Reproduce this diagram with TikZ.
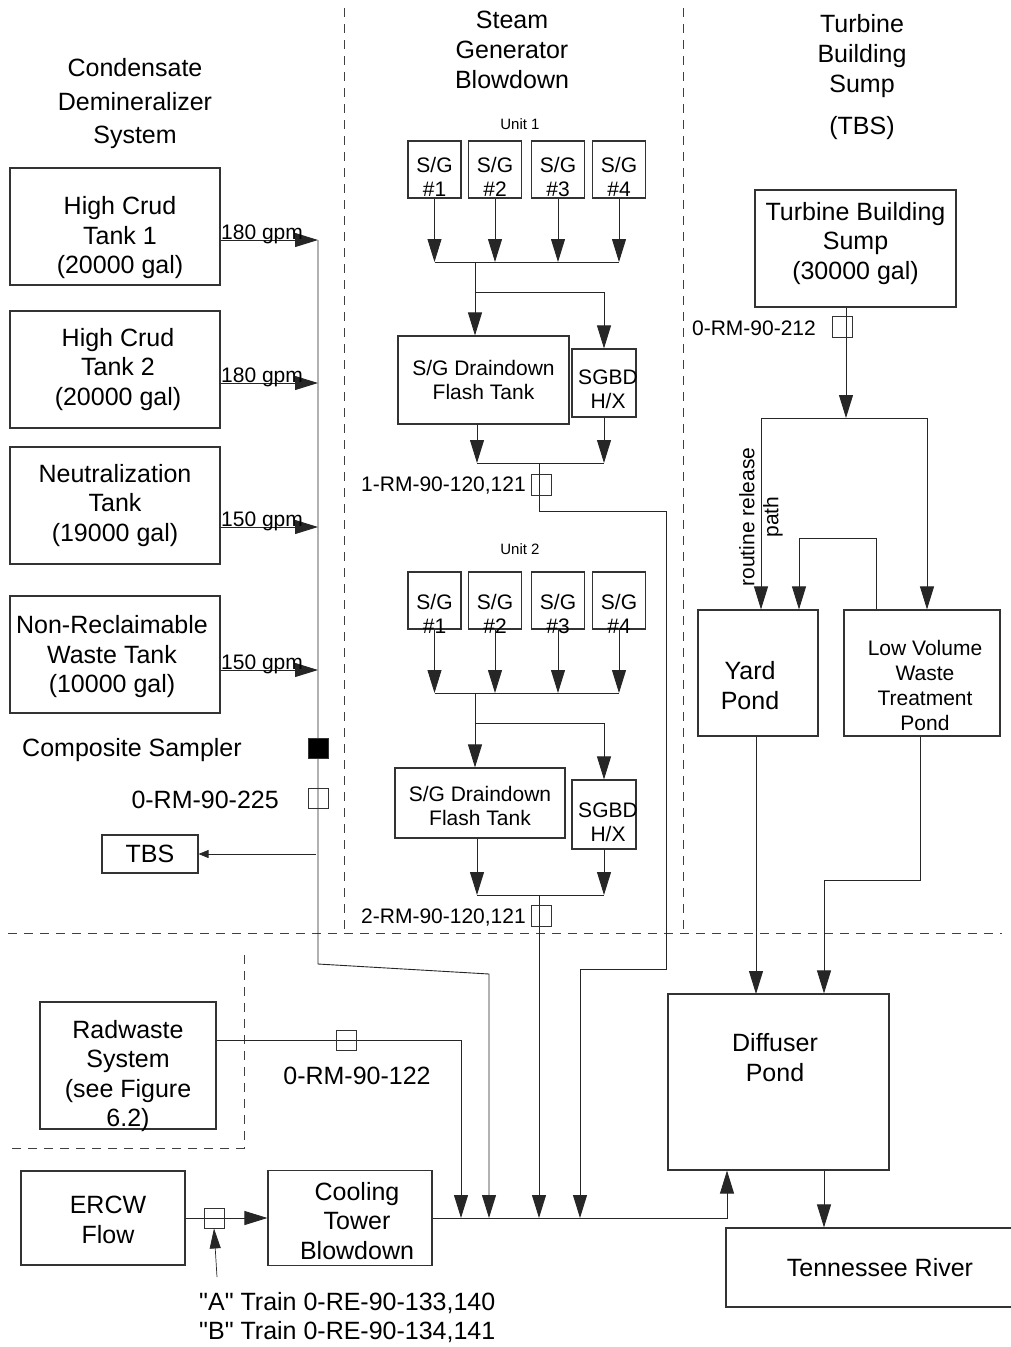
\documentclass[tikz,border=0pt]{standalone}
\usepackage{fontspec}
\setmainfont{Liberation Sans}
\usetikzlibrary{arrows.meta, positioning, calc}

\tikzset{
  box/.style={draw=black!80, line width=1.1pt, inner sep=0pt},
  lbl/.style={align=center, font=\fontsize{25}{29.5}\selectfont, inner sep=0pt},
  mlbl/.style={align=center, font=\fontsize{21}{24}\selectfont, inner sep=0pt},
  slbl/.style={font=\fontsize{15}{18}\selectfont, inner sep=0pt},
  pipe/.style={line width=0.9pt, black!85},
  zone/.style={line width=0.7pt, black!75, dash pattern=on 9pt off 7pt},
  mon/.style={draw=black!80, line width=0.9pt, minimum width=20pt, minimum height=20pt, inner sep=0pt},
  sg/.style={box, minimum width=53, minimum height=57},
  sgt/.style={mlbl, font=\fontsize{21}{23.5}\selectfont},
  >={Triangle[length=23pt,width=14pt]},
}

\begin{document}
\begin{tikzpicture}[x=1pt, y=-1pt]
  \useasboundingbox (0,0) rectangle (1010,1347);

  % zone borders
  \draw[zone] (344,8) -- (344,933);
  \draw[zone] (683,8) -- (683,933);
  \draw[zone] (8,933) -- (1002,933);
  \draw[zone] (244,955) -- (244,1148) -- (8,1148);

  % headings
  \node[lbl, font=\fontsize{25}{33.5}\selectfont] (tcd) at (135,104) {Condensate\\Demineralizer\\System};
  \node[lbl, font=\fontsize{25}{30}\selectfont] (tsg) at (512,50) {Steam\\Generator\\Blowdown};
  \node[lbl, font=\fontsize{25}{30}\selectfont] (ttb) at (862,56) {Turbine\\Building\\Sump};
  \node[lbl] (ttbs) at (862,128) {(TBS)};

  % condensate demineralizer tanks
  \node[box, minimum width=210, minimum height=117, label={[lbl, xshift=5pt, yshift=-11.5pt]center:{High Crud\\Tank 1\\(20000 gal)}}] (hct1) at (115,226.5) {};
  \node[box, minimum width=210, minimum height=117, label={[lbl, xshift=3pt]center:{High Crud\\Tank 2\\(20000 gal)}}] (hct2) at (115,369.5) {};
  \node[box, lbl, minimum width=210, minimum height=117] (neut) at (115,505.5) {Neutralization\\Tank\\(19000 gal)};
  \node[box, minimum width=210, minimum height=117, label={[lbl, xshift=-3pt, yshift=-2.5pt]center:{Non-Reclaimable\\Waste Tank\\(10000 gal)}}] (nrw) at (115,654.5) {};

  \coordinate (m1) at (318,240);
  \coordinate (m2) at (318,383);
  \coordinate (m3) at (318,527);
  \coordinate (m4) at (318,670);
  \draw[pipe, ->] (hct1.east |- m1) -- (m1);
  \draw[pipe, ->] (hct2.east |- m2) -- (m2);
  \draw[pipe, ->] (neut.east |- m3) -- (m3);
  \draw[pipe, ->] (nrw.east |- m4) -- (m4);
  \node[mlbl, anchor=base west] (g1) at (221,239) {180 gpm};
  \node[mlbl, anchor=base west] (g2) at (221,382) {180 gpm};
  \node[mlbl, anchor=base west] (g3) at (221,526) {150 gpm};
  \node[mlbl, anchor=base west] (g4) at (221,669) {150 gpm};

  \draw[pipe, ->] (m1) -- (318,964) -- (489,974) -- (489,1218);
  \node[mon, fill=black] (cs) at (318,748) {};
  \node[lbl] (csl) at (132,750) {Composite Sampler};
  \node[mon] (rm225) at (318,798) {};
  \node[lbl, anchor=east] (rm225l) at (279,800) {0-RM-90-225};
  \node[box, lbl, minimum width=96, minimum height=38] (tbs) at (150,854) {TBS};
  \draw[pipe, line width=0.7pt, -{Triangle[length=10pt,width=8pt]}] (316,854) -- (tbs.east);

  % steam generator blowdown, unit 1
  \node[slbl] (u1) at (520,124) {Unit 1};
  \node[sg, label={[sgt, yshift=-7.5pt]center:{S/G\\\#1}}] (sg11) at (434.5,169.5) {};
  \node[sg, label={[sgt, yshift=-7.5pt]center:{S/G\\\#2}}] (sg12) at (495,169.5) {};
  \node[sg, label={[sgt, yshift=-7.5pt]center:{S/G\\\#3}}] (sg13) at (558,169.5) {};
  \node[sg, label={[sgt, yshift=-7.5pt]center:{S/G\\\#4}}] (sg14) at (619,169.5) {};
  \coordinate (b1) at (475,262);
  \draw[pipe, ->] (sg11.south) -- (sg11.south |- b1);
  \draw[pipe, ->] (sg12.south) -- (sg12.south |- b1);
  \draw[pipe, ->] (sg13.south) -- (sg13.south |- b1);
  \draw[pipe, ->] (sg14.south) -- (sg14.south |- b1);
  \draw[pipe] (sg11.south |- b1) -- (sg14.south |- b1);

  \node[box, mlbl, minimum width=171, minimum height=88] (ft1) at (483.5,380) {S/G Draindown\\Flash Tank};
  \node[box, minimum width=64, minimum height=68, label={[mlbl, xshift=4pt, yshift=-6pt]center:{SGBD\\H/X}}] (hx1) at (604,383) {};
  \coordinate (j1) at (475,292);
  \draw[pipe, ->] (b1) -- (b1 |- ft1.north);
  \draw[pipe, ->] (j1) -- (j1 -| hx1.north) -- (hx1.north);
  \coordinate (f1) at (477,463);
  \coordinate (d1) at (539,463);
  \draw[pipe, ->] (ft1.south -| f1) -- (f1);
  \draw[pipe, ->] (hx1.south) -- (hx1.south |- f1);
  \draw[pipe] (f1) -- (hx1.south |- f1);
  \draw[pipe, ->] (d1) -- (539,511) -- (666,511) -- (666,969) -- (580,969) -- (580,1218);
  \node[mon, minimum height=21] (rm1) at (541,484.5) {};
  \node[mlbl, anchor=east] (rm1l) at (526,486) {1-RM-90-120,121};

  % steam generator blowdown, unit 2
  \node[slbl] (u2) at (520,549) {Unit 2};
  \node[sg, label={[sgt, yshift=-13.5pt]center:{S/G\\\#1}}] (sg21) at (434.5,600.5) {};
  \node[sg, label={[sgt, yshift=-13.5pt]center:{S/G\\\#2}}] (sg22) at (495,600.5) {};
  \node[sg, label={[sgt, yshift=-13.5pt]center:{S/G\\\#3}}] (sg23) at (558,600.5) {};
  \node[sg, label={[sgt, yshift=-13.5pt]center:{S/G\\\#4}}] (sg24) at (619,600.5) {};
  \coordinate (b2) at (475,693);
  \draw[pipe, ->] (sg21.south) -- (sg21.south |- b2);
  \draw[pipe, ->] (sg22.south) -- (sg22.south |- b2);
  \draw[pipe, ->] (sg23.south) -- (sg23.south |- b2);
  \draw[pipe, ->] (sg24.south) -- (sg24.south |- b2);
  \draw[pipe] (sg21.south |- b2) -- (sg24.south |- b2);

  \node[box, minimum width=170, minimum height=70, label={[mlbl, yshift=-3pt]center:{S/G Draindown\\Flash Tank}}] (ft2) at (480,803) {};
  \node[box, minimum width=64, minimum height=69, label={[mlbl, xshift=4pt, yshift=-7.5pt]center:{SGBD\\H/X}}] (hx2) at (604,814.5) {};
  \coordinate (j2) at (475,723);
  \draw[pipe, ->] (b2) -- (b2 |- ft2.north);
  \draw[pipe, ->] (j2) -- (j2 -| hx2.north) -- (hx2.north);
  \coordinate (f2) at (477,895);
  \coordinate (d2) at (539,895);
  \draw[pipe, ->] (ft2.south -| f2) -- (f2);
  \draw[pipe, ->] (hx2.south) -- (hx2.south |- f2);
  \draw[pipe] (f2) -- (hx2.south |- f2);
  \draw[pipe, ->] (d2) -- (539,1218);
  \node[mon, minimum height=21] (rm2) at (541,915.5) {};
  \node[mlbl, anchor=east] (rm2l) at (526,917) {2-RM-90-120,121};

  % turbine building sump
  \node[box, minimum width=201, minimum height=117, label={[lbl, yshift=5pt]center:{Turbine Building\\Sump\\(30000 gal)}}] (sump) at (855.5,248.5) {};
  \coordinate (t1) at (846,418);
  \draw[pipe, ->] (sump.south -| t1) -- (t1);
  \node[mon, minimum height=21] (rm212) at (842,326.5) {};
  \node[mlbl, anchor=east] (rm212l) at (816,328) {0-RM-90-212};
  \coordinate (t2) at (761,418);
  \coordinate (t3) at (927,418);
  \draw[pipe] (t2) -- (t3);

  \node[box, minimum width=120, minimum height=126, label={[lbl, xshift=-8pt, yshift=-12.5pt]center:{Yard\\Pond}}] (yard) at (758,673) {};
  \node[box, minimum width=156, minimum height=126, label={[mlbl, font=\fontsize{21}{25}\selectfont, xshift=3pt, yshift=-12.5pt]center:{Low Volume\\Waste\\Treatment\\Pond}}] (lvw) at (922,673) {};
  \draw[pipe, ->] (t2) -- (t2 |- yard.north);
  \draw[pipe, ->] (t3) -- (t3 |- lvw.north);
  \node[mlbl, rotate=90] (rrp) at (761,517) {routine release\\path};
  \coordinate (l1) at (876,538);
  \coordinate (l2) at (799,538);
  \draw[pipe, ->] (lvw.north -| l1) -- (l1) -- (l2) -- (l2 |- yard.north);

  % ponds and river
  \node[box, minimum width=221, minimum height=176, label={[lbl, xshift=-3.5pt, yshift=24.5pt]center:{Diffuser\\Pond}}] (dif) at (778.5,1082) {};
  \coordinate (p1) at (756,994);
  \coordinate (p2) at (920,880);
  \coordinate (p3) at (824,880);
  \draw[pipe, ->] (yard.south -| p1) -- (p1);
  \draw[pipe, ->] (lvw.south -| p2) -- (p2) -- (p3) -- (p3 |- dif.north);
  \node[box, lbl, minimum width=308, minimum height=79] (riv) at (880,1267.5) {Tennessee River};
  \draw[pipe, ->] (dif.south -| p3) -- (p3 |- riv.north);

  % radwaste
  \node[box, minimum width=176, minimum height=127, label={[lbl, yshift=-10.5pt]center:{Radwaste\\System\\(see Figure\\6.2)}}] (rad) at (128,1065.5) {};
  \coordinate (r1) at (461,1040);
  \coordinate (bus) at (727,1218);
  \draw[pipe, ->] (rad.east |- r1) -- (r1) -- (r1 |- bus);
  \node[mon] (rm122) at (346,1040) {};
  \node[lbl] (rm122l) at (357,1076) {0-RM-90-122};

  % ERCW and cooling tower
  \node[box, minimum width=164, minimum height=94, label={[lbl, xshift=5pt, yshift=-2pt]center:{ERCW\\Flow}}] (ercw) at (103,1218) {};
  \node[box, minimum width=164, minimum height=95, label={[lbl, xshift=7pt, yshift=-3pt]center:{Cooling\\Tower\\Blowdown}}] (ctb) at (350,1218) {};
  \draw[pipe, ->] (ercw) -- (ctb);
  \node[mon] (rm133) at (214,1218) {};
  \coordinate (a1) at (217,1277);
  \draw[pipe, line width=0.7pt, -{Triangle[length=20pt,width=11pt]}] (a1) -- (rm133.south);
  \node[lbl, align=left, anchor=west] (trn) at (199,1317.5) {\textquotedbl A\textquotedbl{} Train 0-RE-90-133,140\\\textquotedbl B\textquotedbl{} Train 0-RE-90-134,141};
  \draw[pipe, ->] (ctb.east) -- (bus) -- (bus |- dif.south);
\end{tikzpicture}
\end{document}
